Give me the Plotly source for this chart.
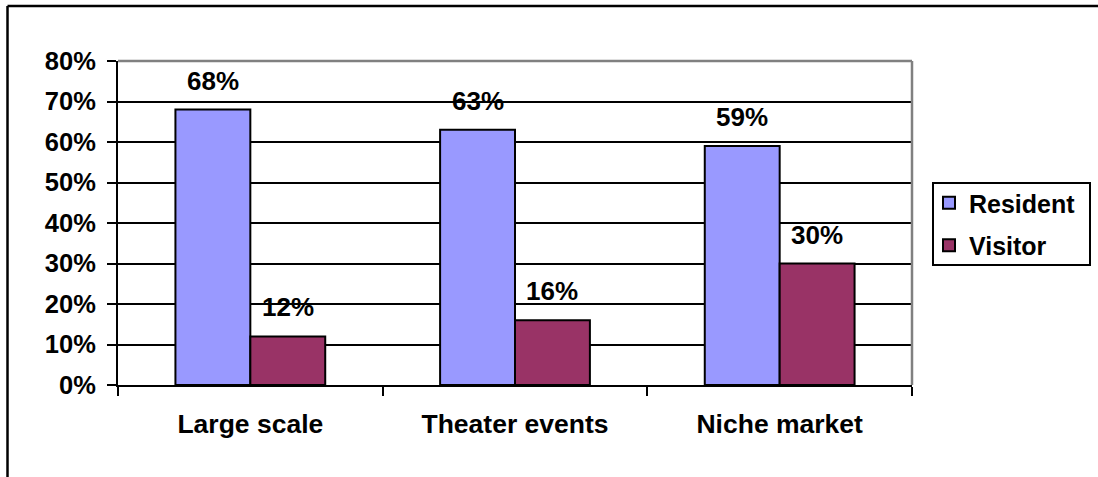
import plotly.graph_objects as go

# Survey shares by event type
categories = ["Large scale", "Theater events", "Niche market"]
resident = [68, 63, 59]
visitor = [12, 16, 30]
y_ticks = [0, 10, 20, 30, 40, 50, 60, 70, 80]
y_tick_text = [f"{v}%" for v in y_ticks]

FONT = "Liberation Sans, Arial, sans-serif"

# Page / plot geometry in pixels
W, H = 1098, 477
ML, MR, MT, MB = 118, 186, 61, 92
PW, PH = W - ML - MR, H - MT - MB


def px_x(p):
    return (p - ML) / PW


def px_y(p):
    return (H - MB - p) / PH


fig = go.Figure()
fig.add_trace(go.Bar(
    name="<b>Resident</b>", x=categories, y=resident, legendgroup="r",
    marker=dict(color="#9999FF", line=dict(color="black", width=2)),
))
fig.add_trace(go.Bar(
    name="<b>Visitor</b>", x=categories, y=visitor, legendgroup="v",
    marker=dict(color="#993366", line=dict(color="black", width=2)),
))

bar_px = PW / len(categories) * (1 - 0.434) / 2

annotations = []
for series, sign in ((resident, -1), (visitor, 1)):
    for cat, v in zip(categories, series):
        annotations.append(dict(
            x=cat, y=v, xref="x", yref="y", text=f"<b>{v}%</b>",
            showarrow=False, xshift=sign * bar_px / 2, yshift=29,
            yanchor="middle", font=dict(family=FONT, size=26, color="black"),
        ))

shapes = [
    # outer frame (top and left edges fall inside the page)
    dict(type="line", xref="paper", yref="paper",
         x0=px_x(7.5), x1=px_x(W), y0=px_y(6), y1=px_y(6),
         line=dict(color="black", width=2.5), layer="above"),
    dict(type="line", xref="paper", yref="paper",
         x0=px_x(7.5), x1=px_x(7.5), y0=px_y(H), y1=px_y(6),
         line=dict(color="black", width=2.5), layer="above"),
    # grey plot-area border (top and right)
    dict(type="line", xref="paper", yref="paper", x0=0, x1=1, y0=1, y1=1,
         line=dict(color="#808080", width=2.5), layer="above"),
    dict(type="line", xref="paper", yref="paper", x0=1, x1=1, y0=0, y1=1,
         line=dict(color="#808080", width=2.5), layer="above"),
    # legend frame
    dict(type="rect", xref="paper", yref="paper",
         x0=px_x(933), x1=px_x(1090), y0=px_y(265), y1=px_y(183),
         line=dict(color="black", width=2), layer="above"),
]

fig.update_layout(
    width=W, height=H,
    margin=dict(l=ML, r=MR, t=MT, b=MB, pad=0, autoexpand=False),
    paper_bgcolor="white", plot_bgcolor="white",
    barmode="group", bargap=0.434, bargroupgap=0,
    font=dict(family=FONT, color="black"),
    showlegend=True,
    legend=dict(
        x=px_x(929), y=px_y(180), xanchor="left", yanchor="top",
        borderwidth=0, bgcolor="rgba(0,0,0,0)",
        font=dict(family=FONT, size=25, color="black"),
        tracegroupgap=7, traceorder="grouped",
        itemclick=False, itemdoubleclick=False,
    ),
    xaxis=dict(
        type="category", showline=True, linecolor="black", linewidth=2,
        ticks="outside", tickson="boundaries", ticklen=9, tickwidth=2,
        tickcolor="black", showgrid=False, ticklabelstandoff=14,
        tickfont=dict(family=FONT, size=26.5, color="black"),
        tickvals=categories, ticktext=[f"<b>{c}</b>" for c in categories],
    ),
    yaxis=dict(
        range=[0, 80], showline=True, linecolor="black", linewidth=2,
        ticks="outside", ticklen=9, tickwidth=2, tickcolor="black",
        showgrid=True, gridcolor="black", gridwidth=2, zeroline=False,
        tickvals=y_ticks, ticktext=[f"<b>{t}</b>" for t in y_tick_text],
        tickfont=dict(family=FONT, size=25.5, color="black"),
        ticklabelstandoff=6,
    ),
    annotations=annotations,
    shapes=shapes,
)

# keep the page free of scrollbars
page_js = (
    "document.documentElement.style.overflow='hidden';"
    "document.body.style.overflow='hidden';"
    "document.body.style.margin='0';"
)

fig.write_html("out.html", config={"displayModeBar": False}, post_script=page_js)
